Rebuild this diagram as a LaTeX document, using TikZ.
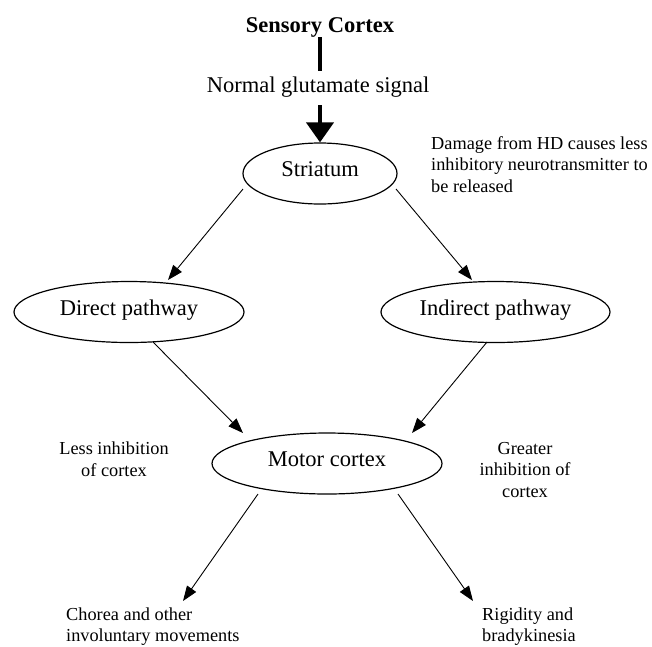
\documentclass[tikz,border=0pt]{standalone}
\usepackage{fontspec}
\setmainfont{Liberation Serif}
\usetikzlibrary{arrows.meta,calc,shapes.geometric}
\begin{document}
\begin{tikzpicture}[x=1pt,y=-1pt,
  big/.style={font=\fontsize{22.5}{27}\selectfont},
  small/.style={font=\fontsize{18.3}{21.5}\selectfont,inner sep=0pt},
  oval/.style={ellipse,draw,line width=1.2pt,inner sep=0pt,minimum height=61pt,
    text height=11pt,text depth=5pt,big},
  arr/.style={line width=0.9pt,-{Triangle[length=15pt,width=11pt]}},
  thickarr/.style={line width=4pt,-{Triangle[length=20pt,width=27pt]}},
  ]
\useasboundingbox (0,0) rectangle (652,646);
% top
\node[anchor=base,font=\fontsize{22.5}{27}\selectfont\bfseries] (sens) at (320,32) {Sensory Cortex};
\node[big,anchor=base] (glu) at (318,92) {Normal glutamate signal};
% ellipses
\node[oval,minimum width=154pt] (str) at (320,173.5) {Striatum};
\node[oval,minimum width=230pt] (dir) at (129,312) {Direct pathway};
\node[oval,minimum width=229pt] (ind) at (495.5,312) {Indirect pathway};
\node[oval,minimum width=230pt] (mot) at (327,463.5) {Motor cortex};
% texts (base anchor = baseline of the last line)
\node[small,anchor=base west,align=left] (dmg) at (431,192)
  {Damage from HD causes less\\inhibitory neurotransmitter to\\be released};
\node[small,anchor=base,align=center] (less) at (114,476) {Less inhibition\\of cortex};
\node[small,anchor=base,align=center] (grt) at (525,497) {Greater\\inhibition of\\cortex};
\node[small,anchor=base west,align=left] (cho) at (66,641.5) {Chorea and other\\involuntary movements};
\node[small,anchor=base west,align=left] (rig) at (482,641.5) {Rigidity and\\bradykinesia};
\coordinate (chtip) at (183,601);
\coordinate (rgtip) at (473,601);
% connectors
\draw[line width=4pt] ($(sens.south)+(0,-3)$) -- ($(sens.south |- glu.north)+(0,-2)$);
\draw[thickarr] ($(glu.south -| str.north)+(0,5)$) -- (str.north);
\draw[arr] ($(str.center)+(-77,15.5)$) -- ($(dir.center)+(39,-32)$);
\draw[arr] ($(str.center)+(76,15.5)$) -- ($(ind.center)+(-23.5,-32)$);
\draw[arr] ($(dir.center)+(24,30)$) -- ($(mot.center)+(-84,-30.5)$);
\draw[arr] ($(ind.center)+(-8.5,30)$) -- ($(mot.center)+(85,-30.5)$);
\draw[arr] ($(mot.center)+(-69,30.5)$) -- (chtip);
\draw[arr] ($(mot.center)+(71,30.5)$) -- (rgtip);
\end{tikzpicture}
\end{document}
